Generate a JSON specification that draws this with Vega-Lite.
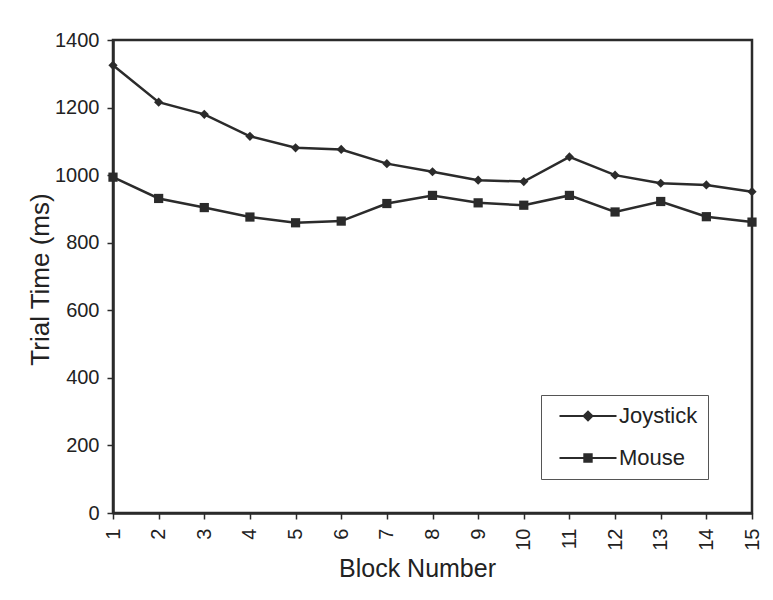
{
  "$schema": "https://vega.github.io/schema/vega-lite/v6.json",
  "autosize": "none",
  "width": 639,
  "height": 473,
  "padding": {"left": 113, "top": 40, "right": 21, "bottom": 87},
  "background": "white",
  "config": {
    "font": "Liberation Sans",
    "view": {"stroke": "#2b2b2b", "strokeWidth": 2.5},
    "axis": {
      "labelFont": "Liberation Sans",
      "titleFont": "Liberation Sans",
      "labelColor": "#222",
      "titleColor": "#222",
      "domainColor": "#2b2b2b",
      "tickColor": "#2b2b2b",
      "domainWidth": 2.5,
      "tickWidth": 1.5,
      "grid": false
    }
  },
  "data": {
    "values": [
      {"block": 1, "device": "Joystick", "time": 1325},
      {"block": 2, "device": "Joystick", "time": 1216},
      {"block": 3, "device": "Joystick", "time": 1180},
      {"block": 4, "device": "Joystick", "time": 1115},
      {"block": 5, "device": "Joystick", "time": 1081},
      {"block": 6, "device": "Joystick", "time": 1076},
      {"block": 7, "device": "Joystick", "time": 1034},
      {"block": 8, "device": "Joystick", "time": 1010},
      {"block": 9, "device": "Joystick", "time": 985},
      {"block": 10, "device": "Joystick", "time": 981},
      {"block": 11, "device": "Joystick", "time": 1054},
      {"block": 12, "device": "Joystick", "time": 1000},
      {"block": 13, "device": "Joystick", "time": 976},
      {"block": 14, "device": "Joystick", "time": 971},
      {"block": 15, "device": "Joystick", "time": 951},
      {"block": 1, "device": "Mouse", "time": 994},
      {"block": 2, "device": "Mouse", "time": 931},
      {"block": 3, "device": "Mouse", "time": 904},
      {"block": 4, "device": "Mouse", "time": 876},
      {"block": 5, "device": "Mouse", "time": 859},
      {"block": 6, "device": "Mouse", "time": 864},
      {"block": 7, "device": "Mouse", "time": 916},
      {"block": 8, "device": "Mouse", "time": 940},
      {"block": 9, "device": "Mouse", "time": 918},
      {"block": 10, "device": "Mouse", "time": 911},
      {"block": 11, "device": "Mouse", "time": 940},
      {"block": 12, "device": "Mouse", "time": 891},
      {"block": 13, "device": "Mouse", "time": 922},
      {"block": 14, "device": "Mouse", "time": 877},
      {"block": 15, "device": "Mouse", "time": 861}
    ]
  },
  "encoding": {
    "x": {
      "field": "block",
      "type": "quantitative",
      "scale": {"domain": [1, 15], "nice": false, "zero": false},
      "axis": {
        "title": "Block Number",
        "values": [1, 2, 3, 4, 5, 6, 7, 8, 9, 10, 11, 12, 13, 14, 15],
        "labelAngle": -90,
        "labelFontSize": 20,
        "tickSize": 6,
        "labelPadding": 9,
        "titleFontSize": 25,
        "titleFontWeight": "normal",
        "titleX": 304,
        "titleY": 63,
        "titleBaseline": "alphabetic",
        "titleAlign": "center"
      }
    },
    "y": {
      "field": "time",
      "type": "quantitative",
      "scale": {"domain": [0, 1400], "nice": false},
      "axis": {
        "title": "Trial Time (ms)",
        "values": [0, 200, 400, 600, 800, 1000, 1200, 1400],
        "format": "d",
        "labelFontSize": 20,
        "tickSize": 6,
        "labelPadding": 8,
        "titleFontSize": 26,
        "titleFontWeight": "normal",
        "titleAngle": -90,
        "titleX": -65,
        "titleY": 239,
        "titleAlign": "center",
        "titleBaseline": "alphabetic"
      }
    }
  },
  "resolve": {"scale": {"shape": "independent"}},
  "layer": [
    {
      "mark": {"type": "line", "color": "#2b2b2b", "strokeWidth": 2.5},
      "encoding": {"detail": {"field": "device"}}
    },
    {
      "mark": {"type": "point", "filled": true, "color": "#2b2b2b", "opacity": 1, "size": 85},
      "encoding": {
        "shape": {
          "field": "device",
          "type": "nominal",
          "scale": {"domain": ["Joystick", "Mouse"], "range": ["diamond", "square"]},
          "legend": null
        }
      }
    },
    {
      "transform": [{"filter": "datum.time < 0"}],
      "mark": {"type": "point", "filled": true, "color": "#2b2b2b", "opacity": 1},
      "encoding": {
        "shape": {
          "field": "device",
          "type": "nominal",
          "scale": {
            "domain": ["Joystick", "Mouse"],
            "range": ["M-2.85,-0.1H2.85V0.1H-2.85ZM0,-0.58L0.58,0L0,0.58L-0.58,0Z", "M-2.85,-0.1H2.85V0.1H-2.85ZM-0.47,-0.47H0.47V0.47H-0.47Z"]
          },
          "legend": {
            "title": null,
            "orient": "none",
            "legendX": 428,
            "legendY": 355,
            "padding": 10,
            "fillColor": "white",
            "strokeColor": "#555",
            "labelFont": "Liberation Sans",
            "labelFontSize": 22,
            "labelColor": "#222",
            "symbolSize": 400,
            "symbolOffset": 26,
            "labelOffset": 20,
            "rowPadding": 20,
            "symbolFillColor": "#2b2b2b"
          }
        }
      }
    }
  ]
}
